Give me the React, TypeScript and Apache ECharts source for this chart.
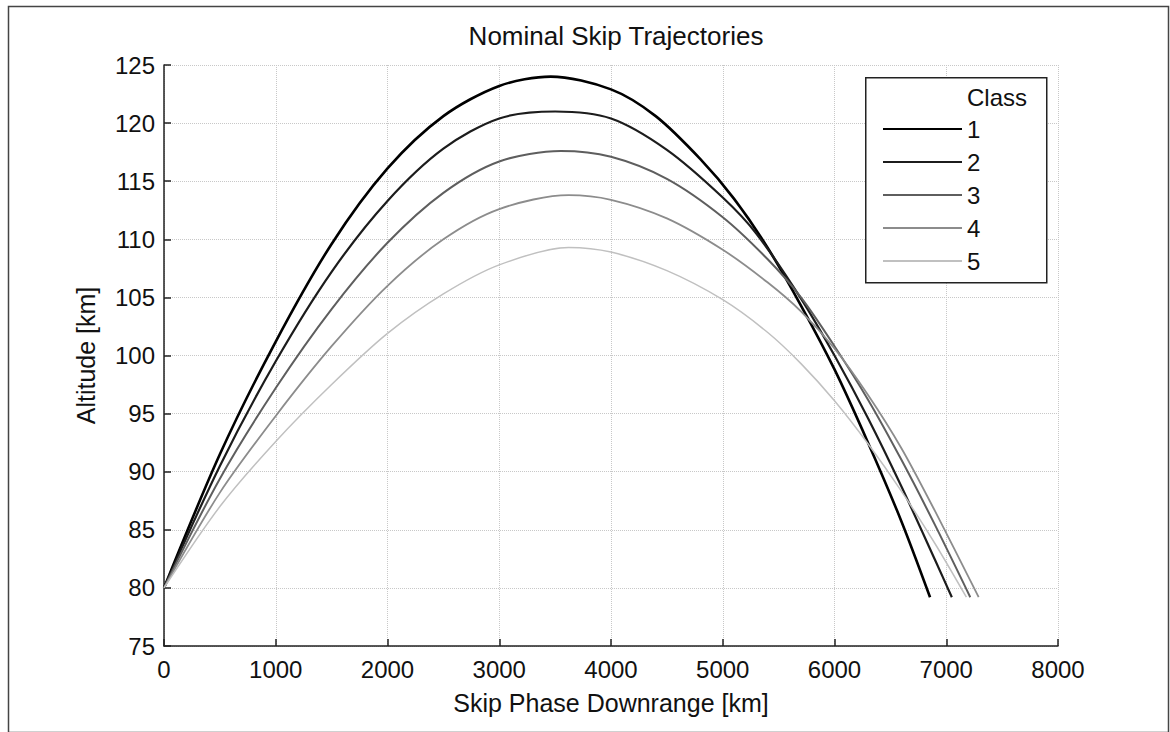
import React, { useEffect, useRef } from "react";
import * as echarts from "echarts";

const classNames = ["1", "2", "3", "4", "5"];

const class1Range = [0, 500, 1000, 1500, 2000, 2500, 3000, 3460, 4000, 4400, 4800, 5100, 5400, 5700, 6000, 6300, 6600, 6855];
const class1Alt = [80, 91.5, 101.2, 109.6, 116.1, 120.6, 123.2, 124.0, 122.9, 120.6, 116.9, 113.5, 109.3, 104.3, 98.8, 92.5, 85.7, 79.2];

const class2Range = [0, 500, 1000, 1500, 2000, 2500, 3000, 3500, 4000, 4500, 5000, 5300, 5700, 6000, 6300, 6600, 6900, 7050];
const class2Alt = [80, 90.5, 99.5, 107.2, 113.3, 117.8, 120.4, 121.0, 120.4, 117.7, 113.6, 110.5, 104.9, 100.0, 94.6, 88.7, 82.4, 79.2];

const class3Range = [0, 500, 1000, 1500, 2000, 2500, 3000, 3550, 4000, 4500, 5000, 5400, 5700, 6000, 6300, 6600, 6900, 7215];
const class3Alt = [80, 89.4, 97.2, 104.0, 109.7, 114.0, 116.7, 117.6, 117.1, 115.2, 111.9, 108.3, 105.0, 100.8, 96.2, 91.0, 85.4, 79.2];

const class4Range = [0, 500, 1000, 1500, 2000, 2500, 3000, 3620, 4000, 4500, 5000, 5400, 5700, 6000, 6300, 6600, 6900, 7290];
const class4Alt = [80, 88.2, 94.8, 100.8, 106.0, 110.0, 112.6, 113.8, 113.4, 111.8, 109.1, 106.3, 103.8, 100.6, 96.6, 92.0, 86.6, 79.2];

const class5Range = [0, 500, 1000, 1500, 2000, 2500, 3000, 3620, 4000, 4500, 5000, 5400, 5700, 6000, 6300, 6600, 6900, 7180];
const class5Alt = [80, 87.0, 92.6, 97.5, 101.9, 105.3, 107.8, 109.3, 108.9, 107.3, 104.8, 102.0, 99.3, 96.1, 92.4, 88.3, 83.8, 79.2];

const ranges = [class1Range, class2Range, class3Range, class4Range, class5Range];
const alts = [class1Alt, class2Alt, class3Alt, class4Alt, class5Alt];

const lineColors = ["#000000", "#1c1c1c", "#5e5e5e", "#8c8c8c", "#c0c0c0"];
const lineWidths = [2.6, 2.2, 2, 1.8, 1.5];

const FONT = "'Liberation Sans', Arial, Helvetica, sans-serif";

export default function App() {
  const ref = useRef<HTMLDivElement>(null);

  useEffect(() => {
    if (!ref.current) return;
    const chart = echarts.init(ref.current, null, { renderer: "svg" });

    const series = classNames.map((name, i) => ({
      name,
      type: "line",
      symbol: "none",
      smooth: 0.3,
      data: ranges[i].map((x, j) => [x, alts[i][j]]),
      lineStyle: { color: lineColors[i], width: lineWidths[i] },
      itemStyle: { color: lineColors[i] },
      z: 2,
    }));

    chart.setOption({
      animation: false,
      backgroundColor: "#ffffff",
      textStyle: { fontFamily: FONT },
      title: {
        text: "Nominal Skip Trajectories",
        left: 611,
        top: 18,
        textAlign: "center",
        textStyle: { fontFamily: FONT, fontSize: 26, fontWeight: "normal", color: "#111" },
      },
      grid: { left: 164, right: 112, top: 65, bottom: 86, containLabel: false },
      xAxis: {
        type: "value",
        min: 0,
        max: 8000,
        interval: 1000,
        name: "Skip Phase Downrange [km]",
        nameLocation: "middle",
        nameGap: 44,
        nameTextStyle: { fontFamily: FONT, fontSize: 25, color: "#111" },
        axisLine: { show: true, onZero: false, lineStyle: { color: "#222", width: 1.5 } },
        axisTick: { show: true, inside: true, length: 7, lineStyle: { color: "#222", width: 1.5 } },
        axisLabel: {
          fontFamily: FONT,
          fontSize: 24,
          color: "#111",
          margin: 11,
          formatter: (v: number) => String(v),
        },
        splitLine: { show: true, lineStyle: { color: "#c8c8c8", type: "dotted", width: 1 } },
      },
      yAxis: {
        type: "value",
        min: 75,
        max: 125,
        interval: 5,
        name: "Altitude [km]",
        nameLocation: "middle",
        nameGap: 66,
        nameTextStyle: { fontFamily: FONT, fontSize: 25, color: "#111" },
        axisLine: { show: true, lineStyle: { color: "#222", width: 1.5 } },
        axisTick: { show: true, inside: true, length: 7, lineStyle: { color: "#222", width: 1.5 } },
        axisLabel: {
          fontFamily: FONT,
          fontSize: 24,
          color: "#111",
          margin: 9,
          formatter: (v: number) => String(v),
        },
        splitLine: { show: true, lineStyle: { color: "#c8c8c8", type: "dotted", width: 1 } },
      },
      legend: {
        data: classNames,
        orient: "vertical",
        left: 882,
        top: 117,
        itemWidth: 79,
        itemHeight: 24,
        itemGap: 9,
        padding: 0,
        z: 10,
        itemStyle: { opacity: 0 },
        textStyle: { fontFamily: FONT, fontSize: 24, color: "#111" },
      },
      graphic: [
        {
          type: "rect",
          left: 6,
          top: 4,
          shape: { width: 1160, height: 726 },
          style: { fill: "none", stroke: "#444", lineWidth: 1.5 },
          z: 0,
        },
        {
          type: "rect",
          left: 865,
          top: 77,
          shape: { width: 181, height: 205 },
          style: { fill: "#ffffff", stroke: "#222", lineWidth: 1.5 },
          z: 5,
        },
        {
          type: "text",
          left: 967,
          top: 85,
          style: { text: "Class", fontFamily: FONT, fontSize: 24, fill: "#111" },
          z: 6,
        },
      ],
      series,
    });

    return () => chart.dispose();
  }, []);

  return (
    <div
      ref={ref}
      style={{ position: "absolute", left: 0, top: 0, width: 1170, height: 732 }}
    />
  );
}
